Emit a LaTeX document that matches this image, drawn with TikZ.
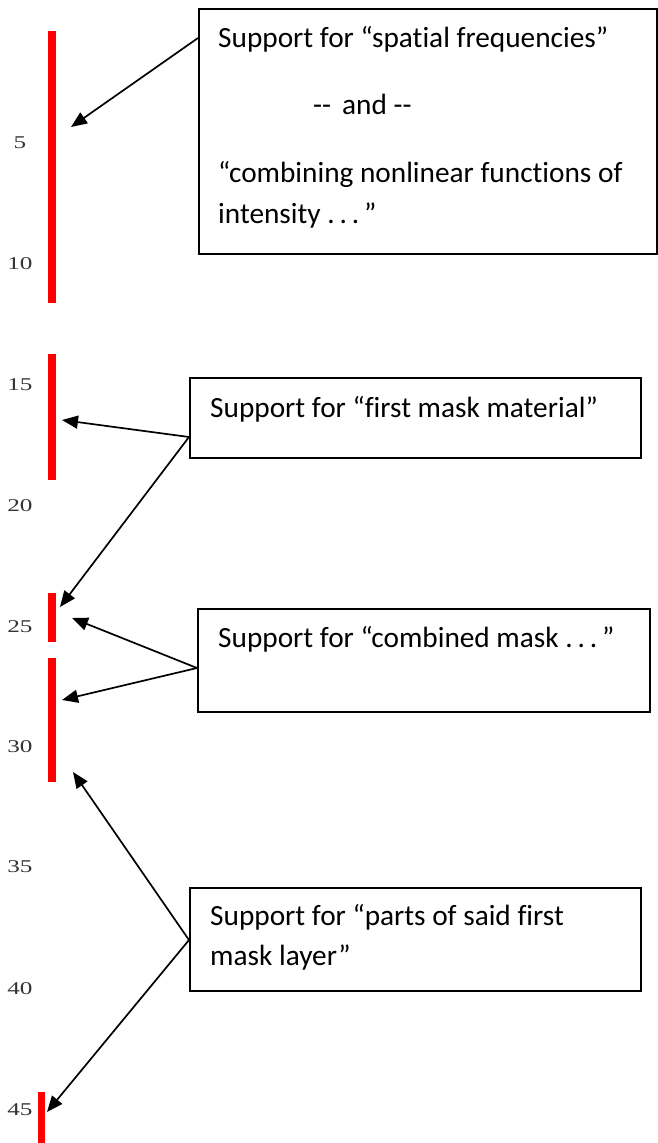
\documentclass[tikz,border=0pt]{standalone}
\usepackage{fontspec}
\usepackage{graphicx}
\setmainfont{Carlito}[Ligatures=NoCommon]
\newfontfamily\numfont{Liberation Serif}
\usetikzlibrary{arrows.meta,calc}
\definecolor{numgray}{HTML}{333333}
\tikzset{
  box/.style={draw=black, line width=1.8pt, rectangle, anchor=north west, inner sep=0pt},
  txt/.style={anchor=base west, inner sep=0pt, font=\fontsize{29.3}{34}\selectfont},
  lnum/.style={anchor=center, inner sep=0pt, text=numgray, font=\numfont\fontsize{18}{18}\selectfont},
  redbar/.style={fill=red, draw=none},
  conn/.style={line width=1.7pt, -{Triangle[length=16pt,width=13pt]}},
}
\newcommand{\wnum}[1]{\scalebox{1.4}[1]{#1}}
\begin{document}
\begin{tikzpicture}[x=1pt,y=-1pt]
\useasboundingbox (0,0) rectangle (657,1143);
% red bars
\fill[redbar] (48.3,31) rectangle (56,303);
\fill[redbar] (48.3,354) rectangle (56,480);
\fill[redbar] (48.3,593) rectangle (56,642);
\fill[redbar] (48.3,658) rectangle (56,782);
\fill[redbar] (37.5,1092) rectangle (45.2,1143);
% line numbers
\node[lnum] (n5) at (20,143) {\wnum{5}};
\node[lnum] (n10) at (20,264) {\wnum{10}};
\node[lnum] (n15) at (20,385) {\wnum{15}};
\node[lnum] (n20) at (20,506) {\wnum{20}};
\node[lnum] (n25) at (20,627) {\wnum{25}};
\node[lnum] (n30) at (20,747) {\wnum{30}};
\node[lnum] (n35) at (20,867) {\wnum{35}};
\node[lnum] (n40) at (20,989) {\wnum{40}};
\node[lnum] (n45) at (20,1110) {\wnum{45}};
% boxes
\node[box, minimum width=458pt, minimum height=245pt] (b1) at (198,8) {};
\node[box, minimum width=451pt, minimum height=80pt] (b2) at (189,377) {};
\node[box, minimum width=452pt, minimum height=103pt] (b3) at (197,608) {};
\node[box, minimum width=451pt, minimum height=103pt] (b4) at (189,887) {};
% texts
\node[txt] (t1a) at (218,47) {Support for “spatial frequencies”};
\node[txt] (t1b) at (313,114) {-{}-\hspace{0.15em} and -{}-};
\node[txt] (t1c) at (218,182) {“combining nonlinear functions of};
\node[txt] (t1d) at (218,223) {intensity .\,.\,.\,”};
\node[txt] (t2) at (210,417) {Support for “first mask material”};
\node[txt] (t3) at (218,647) {Support for “combined mask .\,.\,.\,”};
\node[txt] (t4a) at (210,925) {Support for “parts of said first};
\node[txt] (t4b) at (210,965) {mask layer”};
% connector ends
\coordinate (s1) at ([yshift=-30pt]b1.north west);
\coordinate (s2) at ([yshift=-60pt]b2.north west);
\coordinate (s3) at ([yshift=-60pt]b3.north west);
\coordinate (s4) at ([yshift=-53pt]b4.north west);
\coordinate (e1) at (71,127);
\coordinate (e2a) at (62,420);
\coordinate (e2b) at (60,607);
\coordinate (e3a) at (72,618);
\coordinate (e3b) at (62,700);
\coordinate (e4a) at (73,772);
\coordinate (e4b) at (47,1112);
\draw[conn] (s1) -- (e1);
\draw[conn] (s2) -- (e2a);
\draw[conn] (s2) -- (e2b);
\draw[conn] (s3) -- (e3a);
\draw[conn] (s3) -- (e3b);
\draw[conn] (s4) -- (e4a);
\draw[conn] (s4) -- (e4b);
\end{tikzpicture}
\end{document}
